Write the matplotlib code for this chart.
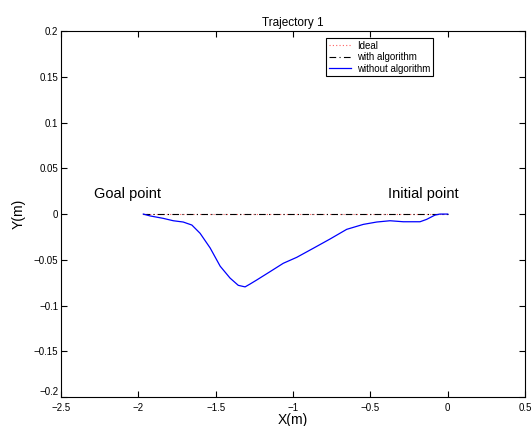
import matplotlib
matplotlib.use('Agg')
import matplotlib.pyplot as plt

plt.rcParams['font.family'] = ['Liberation Sans', 'DejaVu Sans']

# trajectory
x_ideal = [-1.968, 0.0]
y_ideal = [0.0, 0.0]

x_algo = [-1.968, 0.0]
y_algo = [0.0, 0.0]

x_raw = [-1.968, -1.925, -1.839, -1.774, -1.710, -1.654, -1.601, -1.536, -1.471,
         -1.407, -1.354, -1.310, -1.278, -1.235, -1.149, -1.063, -0.976, -0.869,
         -0.761, -0.653, -0.546, -0.459, -0.373, -0.287, -0.179, -0.136, -0.082,
         -0.050, 0.0]
y_raw = [0.0, -0.002, -0.0047, -0.0073, -0.0087, -0.012, -0.021, -0.037, -0.057,
         -0.070, -0.0779, -0.0796, -0.0765, -0.0721, -0.0630, -0.0538, -0.0473, -0.0374,
         -0.0273, -0.0167, -0.0113, -0.0087, -0.0073, -0.0084, -0.0084, -0.0058, -0.0011,
         0.0, 0.0]

xticks = [-2.5, -2, -1.5, -1, -0.5, 0, 0.5]
xtick_labels = ['\u22122.5', '\u22122', '\u22121.5', '\u22121', '\u22120.5', '0', '0.5']
yticks = [-0.2, -0.15, -0.1, -0.05, 0, 0.05, 0.1, 0.15, 0.2]
ytick_labels = ['\u22120.2', '\u22120.15', '\u22120.1', '\u22120.05', '0', '0.05', '0.1', '0.15', '0.2']

fig = plt.figure(figsize=(5.32, 4.26), dpi=100)
ax = fig.add_axes([0.1147, 0.068, 0.8722, 0.859])

ax.plot(x_ideal, y_ideal, color='#ff6060', linestyle=(0, (1, 2)), linewidth=0.8, label='Ideal')
ax.plot(x_algo, y_algo, color='black', linestyle=(0, (6, 3, 1, 3)), linewidth=0.8, label='with algorithm')
ax.plot(x_raw, y_raw, color='#0000ff', linewidth=0.9, label='without algorithm')

ax.text(-2.287, 0.0175, 'Goal point', fontsize=10.5, ha='left', va='baseline')
ax.text(0.073, 0.0175, 'Initial point', fontsize=10.5, ha='right', va='baseline')

ax.set_xlim(-2.5, 0.5)
ax.set_ylim(-0.2, 0.2)
ax.set_xticks(xticks)
ax.set_xticklabels(xtick_labels)
ax.set_yticks(yticks)
ax.set_yticklabels(ytick_labels)
ax.tick_params(direction='in', top=True, right=True, labelsize=7, length=4, pad=2)
ax.tick_params(axis='x', pad=4)
# the lowest y label sits a little above its tick, as in the original
ax.get_yticklabels()[0].set_verticalalignment('bottom')
for s in ax.spines.values():
    s.set_linewidth(0.8)

ax.set_title('Trajectory 1', fontsize=8.5, pad=4)
ax.set_xlabel('X(m)', fontsize=10, labelpad=0.5)
ax.set_ylabel('Y(m)', fontsize=10, labelpad=6)

leg = ax.legend(loc='upper right', bbox_to_anchor=(0.802, 0.982), fontsize=7,
                handlelength=2.3, handletextpad=0.6, borderpad=0.3, labelspacing=0.15,
                fancybox=False, framealpha=1, edgecolor='black', borderaxespad=0)
leg.get_frame().set_linewidth(0.8)

fig.savefig('out.png', dpi=100)
